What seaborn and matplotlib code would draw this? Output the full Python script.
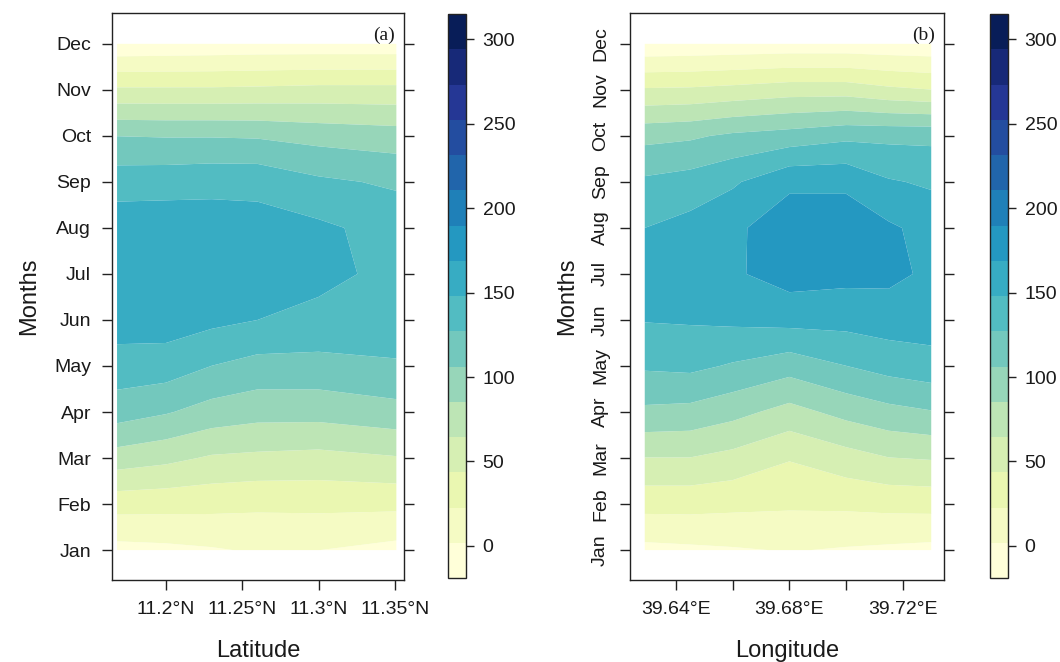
import numpy as np
import matplotlib
matplotlib.use("Agg")
import matplotlib.pyplot as plt
from matplotlib.colors import ListedColormap, BoundaryNorm
import seaborn as sns

# ---------------- data ----------------
months = ["Jan", "Feb", "Mar", "Apr", "May", "Jun", "Jul", "Aug", "Sep", "Oct", "Nov", "Dec"]
month_num = [1, 2, 3, 4, 5, 6, 7, 8, 9, 10, 11, 12]

# panel (a): rainfall by month at each latitude
latitudes = [11.168, 11.20, 11.23, 11.26, 11.30, 11.351]
lat_11168 = [-5, 31, 76, 116, 139, 158, 164, 160, 139, 106, 47, -15]
lat_11200 = [-3, 30, 70, 108, 138, 158, 164, 160, 140, 105, 47, -14]
lat_11230 = [0, 29, 62, 98, 127, 153, 162, 158, 142, 105, 47, -13]
lat_11260 = [4, 27, 60, 93, 120, 148, 158, 156, 142, 104, 48, -12]
lat_11300 = [2, 28, 58, 93, 120, 143, 153, 152, 131, 99, 50, -12]
lat_11351 = [-5, 28, 63, 99, 125, 138, 143, 140, 124, 95, 50, -12]

# panel (b): rainfall by month at each longitude
longitudes = [39.629, 39.645, 39.66, 39.68, 39.70, 39.715, 39.730]
lon_39629 = [-4, 30, 64, 102, 130, 149, 156, 148, 131, 100, 46, -15]
lon_39645 = [-2, 30, 64, 100, 132, 150, 160, 155, 136, 103, 47, -14]
lon_39660 = [0, 28, 58, 92, 125, 152, 166, 165, 145, 110, 50, -13]
lon_39680 = [3, 26, 45, 78, 115, 155, 178, 180, 165, 115, 55, -12]
lon_39700 = [0, 27, 56, 92, 127, 155, 175, 180, 165, 122, 55, -12]
lon_39715 = [-2, 29, 64, 100, 135, 158, 174, 172, 150, 122, 48, -13]
lon_39730 = [-4, 30, 66, 105, 140, 158, 165, 162, 145, 122, 44, -14]

lat_ticks = [11.2, 11.25, 11.3, 11.35]
lat_labels = ["11.2°N", "11.25°N", "11.3°N", "11.35°N"]
lon_ticks = [39.64, 39.66, 39.68, 39.70, 39.72]
lon_labels = ["39.64°E", "", "39.68°E", "", "39.72°E"]
cbar_ticks = [0, 50, 100, 150, 200, 250, 300]

# ---------------- style ----------------
sns.set_theme(style="ticks")
plt.rcParams["font.family"] = ["Liberation Sans", "DejaVu Sans"]

base = sns.color_palette("YlGnBu", as_cmap=True)
nb = 16
levels = np.linspace(-19, 315, nb + 1)
cmap = ListedColormap([base(i / (nb - 1)) for i in range(nb)])
norm = BoundaryNorm(levels, cmap.N)

W, H = 1060, 662
fig = plt.figure(figsize=(W / 100, H / 100), dpi=100)


def frac(l, t, r, b):
    return [l / W, (H - b) / H, (r - l) / W, (b - t) / H]


ax_a = fig.add_axes(frac(112, 13, 404, 580))
cax_a = fig.add_axes(frac(448, 14, 466, 578))
ax_b = fig.add_axes(frac(630, 13, 944, 580))
cax_b = fig.add_axes(frac(990, 14, 1008, 578))

Za = np.array([lat_11168, lat_11200, lat_11230, lat_11260, lat_11300, lat_11351]).T
Zb = np.array([lon_39629, lon_39645, lon_39660, lon_39680, lon_39700, lon_39715, lon_39730]).T

tick_fs = 14
lab_fs = 17


def style_axes(ax):
    for s in ax.spines.values():
        s.set_color("#222222")
        s.set_linewidth(1.0)
    ax.tick_params(axis="both", direction="out", length=7, width=1, color="#222222",
                   labelsize=tick_fs, labelcolor="#1a1a1a", pad=8)
    ax.tick_params(axis="y", right=True, labelright=False)
    ax.tick_params(axis="x", top=False)
    ax.minorticks_off()


cf_a = ax_a.contourf(latitudes, month_num, Za, levels=levels, cmap=cmap, norm=norm,
                     antialiased=True)
ax_a.set_xlim(11.1647, 11.356)
ax_a.set_ylim(0.35, 12.67)
ax_a.set_yticks(month_num, months)
ax_a.set_xticks(lat_ticks, lat_labels)
style_axes(ax_a)
ax_a.set_xlabel("Latitude", fontsize=lab_fs, labelpad=16, color="#1a1a1a")
ax_a.set_ylabel("Months", fontsize=lab_fs, labelpad=10, color="#1a1a1a")
ax_a.text(0.97, 0.975, "(a)", transform=ax_a.transAxes, ha="right", va="top",
          fontsize=14, family="Liberation Serif", color="#1a1a1a")

cf_b = ax_b.contourf(longitudes, month_num, Zb, levels=levels, cmap=cmap, norm=norm,
                     antialiased=True)
ax_b.set_xlim(39.6238, 39.7345)
ax_b.set_ylim(0.35, 12.67)
ax_b.set_yticks(month_num, months)
ax_b.set_xticks(lon_ticks, lon_labels)
style_axes(ax_b)
for t in ax_b.get_yticklabels():
    t.set_rotation(90)
    t.set_va("center")
ax_b.set_xlabel("Longitude", fontsize=lab_fs, labelpad=16, color="#1a1a1a")
ax_b.set_ylabel("Months", fontsize=lab_fs, labelpad=10, color="#1a1a1a")
ax_b.text(0.97, 0.975, "(b)", transform=ax_b.transAxes, ha="right", va="top",
          fontsize=14, family="Liberation Serif", color="#1a1a1a")

for cf, cax in ((cf_a, cax_a), (cf_b, cax_b)):
    cb = fig.colorbar(cf, cax=cax, ticks=cbar_ticks)
    cb.outline.set_edgecolor("#222222")
    cb.outline.set_linewidth(1.0)
    cax.minorticks_off()
    cax.tick_params(which="minor", length=0)
    cax.tick_params(which="major", direction="out", length=6, width=1, color="#222222",
                    labelsize=tick_fs, labelcolor="#1a1a1a", pad=6)

fig.savefig("out.png", dpi=100)
